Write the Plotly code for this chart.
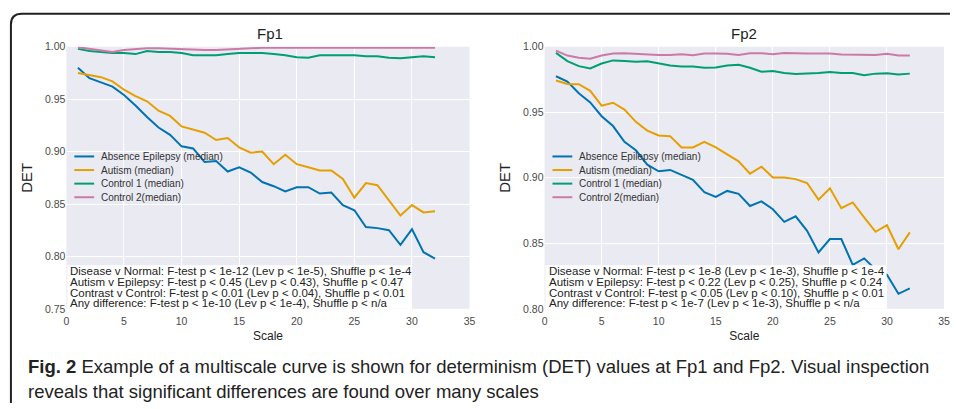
import plotly.graph_objects as go

# ---- data: median DET per scale ----
scales = list(range(1, 33))

fp1_absence = [0.980, 0.970, 0.966, 0.962, 0.954, 0.944, 0.933, 0.923, 0.916, 0.905,
               0.903, 0.890, 0.891, 0.881, 0.885, 0.880, 0.871, 0.867, 0.862, 0.866,
               0.866, 0.860, 0.861, 0.849, 0.844, 0.828, 0.827, 0.825, 0.811, 0.826,
               0.804, 0.798]
fp1_autism = [0.975, 0.973, 0.971, 0.967, 0.959, 0.953, 0.948, 0.939, 0.934, 0.924,
              0.921, 0.918, 0.911, 0.913, 0.904, 0.899, 0.900, 0.888, 0.897, 0.888,
              0.885, 0.882, 0.882, 0.874, 0.856, 0.870, 0.868, 0.854, 0.839, 0.849,
              0.842, 0.843]
fp1_control1 = [0.998, 0.996, 0.995, 0.994, 0.994, 0.993, 0.996, 0.995, 0.995, 0.994,
                0.992, 0.992, 0.992, 0.993, 0.994, 0.994, 0.994, 0.993, 0.992, 0.990,
                0.9895, 0.992, 0.992, 0.992, 0.992, 0.991, 0.991, 0.9895, 0.989, 0.990,
                0.991, 0.990]
fp1_control2 = [0.9995, 0.998, 0.996, 0.995, 0.997, 0.998, 0.9985, 0.9985, 0.998, 0.998,
                0.9975, 0.997, 0.997, 0.9975, 0.998, 0.999, 0.999, 0.999, 0.999, 0.999,
                0.999, 0.999, 0.999, 0.999, 0.999, 0.9985, 0.9985, 0.9985, 0.999, 0.999,
                0.999, 0.999]

fp2_absence = [0.9775, 0.9735, 0.9645, 0.9575, 0.947, 0.9395, 0.9275, 0.921, 0.910, 0.905,
               0.906, 0.902, 0.8985, 0.889, 0.8855, 0.890, 0.8878, 0.8785, 0.882, 0.876,
               0.8664, 0.8706, 0.8595, 0.843, 0.8533, 0.8533, 0.8336, 0.8385, 0.830, 0.826,
               0.8115, 0.8157]
fp2_autism = [0.9743, 0.9716, 0.9714, 0.9664, 0.9551, 0.9573, 0.9521, 0.9427, 0.936, 0.9323,
              0.9318, 0.9232, 0.9232, 0.9274, 0.9232, 0.918, 0.9126, 0.9032, 0.9085, 0.9002,
              0.9002, 0.899, 0.896, 0.8833, 0.892, 0.8768, 0.8812, 0.8698, 0.8588, 0.8638,
              0.8455, 0.8584]
fp2_control1 = [0.9953, 0.9891, 0.9852, 0.9835, 0.9872, 0.9896, 0.9891, 0.9886, 0.9889, 0.9872,
                0.9857, 0.985, 0.985, 0.984, 0.9842, 0.9857, 0.9862, 0.984, 0.981, 0.9815,
                0.980, 0.9793, 0.9795, 0.980, 0.9807, 0.980, 0.980, 0.9783, 0.9795, 0.9798,
                0.9788, 0.9795]
fp2_control2 = [0.997, 0.9933, 0.9916, 0.9909, 0.9933, 0.9948, 0.995, 0.9946, 0.994, 0.9938,
                0.9938, 0.9943, 0.9936, 0.9948, 0.9948, 0.9946, 0.9938, 0.995, 0.995, 0.9943,
                0.9953, 0.9948, 0.9948, 0.9948, 0.9948, 0.9941, 0.9941, 0.9943, 0.9938, 0.9946,
                0.9933, 0.9933]

series_names = ["Absence Epilepsy (median)", "Autism (median)",
                "Control 1 (median)", "Control 2(median)"]
series_colors = ["#0173B2", "#E69F00", "#009E73", "#CC79A7"]

panel_titles = ["Fp1", "Fp2"]
x_ticks = [0, 5, 10, 15, 20, 25, 30, 35]
fp1_y_ticks = [0.75, 0.80, 0.85, 0.90, 0.95, 1.00]
fp2_y_ticks = [0.80, 0.85, 0.90, 0.95, 1.00]

fp1_stats = [
    "Disease v Normal: F-test p < 1e-12 (Lev p < 1e-5), Shuffle p < 1e-4",
    "Autism v Epilepsy: F-test p < 0.45 (Lev p < 0.43), Shuffle p < 0.47",
    "Contrast v Control: F-test p < 0.01 (Lev p < 0.04), Shuffle p < 0.01",
    "Any difference: F-test p < 1e-10 (Lev p < 1e-4), Shuffle p < n/a",
]
fp2_stats = [
    "Disease v Normal: F-test p < 1e-8 (Lev p < 1e-3), Shuffle p < 1e-4",
    "Autism v Epilepsy: F-test p < 0.22 (Lev p < 0.25), Shuffle p < 0.24",
    "Contrast v Control: F-test p < 0.05 (Lev p < 0.10), Shuffle p < 0.01",
    "Any difference: F-test p < 1e-7 (Lev p < 1e-3), Shuffle p < n/a",
]

caption_bold = "Fig. 2"
caption_line1 = (" Example of a multiscale curve is shown for determinism (DET) values "
                 "at Fp1 and Fp2. Visual inspection")
caption_line2 = "reveals that significant differences are found over many scales"

# ---- page geometry (pixels) ----
W, H = 956, 409


def px(x):
    return x / W


def py(y):
    return 1 - y / H


panels = [
    dict(x0=64, x1=471, yticks=fp1_y_ticks,
         series=[fp1_absence, fp1_autism, fp1_control1, fp1_control2], stats=fp1_stats,
         box_x1=412),
    dict(x0=546.7, x1=950, yticks=fp2_y_ticks,
         series=[fp2_absence, fp2_autism, fp2_control1, fp2_control2], stats=fp2_stats,
         box_x1=892),
]
plot_top, plot_bottom = 42, 312

TEXT_FONT = "Liberation Sans, Arial, sans-serif"
TICK_FONT = dict(family=TEXT_FONT, size=10.5, color="#4a4a4a")

fig = go.Figure()
layout = dict(
    width=W, height=H,
    margin=dict(l=0, r=0, t=0, b=0),
    paper_bgcolor="white",
    plot_bgcolor="#EAEAF2",
    showlegend=False,
)
shapes = []
annotations = []

for i, p in enumerate(panels):
    sfx = "" if i == 0 else str(i + 1)
    xa, ya = "x" + sfx, "y" + sfx
    for vals, name, col in zip(p["series"], series_names, series_colors):
        fig.add_trace(go.Scatter(x=scales, y=vals, mode="lines", name=name,
                                 line=dict(color=col, width=2), xaxis=xa, yaxis=ya))
    layout["xaxis" + sfx] = dict(
        domain=[px(p["x0"]), px(p["x1"])], range=[0, 35], anchor=ya,
        tickvals=x_ticks, ticks="", showline=False, zeroline=False,
        gridcolor="white", gridwidth=1.2, tickfont=TICK_FONT, ticklabelstandoff=5,
        title=dict(text="Scale", font=dict(family=TEXT_FONT, size=12, color="#222"),
                   standoff=5),
    )
    layout["yaxis" + sfx] = dict(
        domain=[py(plot_bottom), py(plot_top)],
        range=[p["yticks"][0], 1.0], anchor=xa,
        tickvals=p["yticks"], tickformat=".2f", ticks="", showline=False,
        zeroline=False, gridcolor="white", gridwidth=1.2, tickfont=TICK_FONT,
        title=dict(text="DET", font=dict(family=TEXT_FONT, size=15, color="#222"),
                   standoff=8),
    )
    # panel title
    annotations.append(dict(
        text=panel_titles[i], xref="paper", yref="paper",
        x=px((p["x0"] + p["x1"]) / 2 + (2 if i == 0 else 0)), y=py(28),
        xanchor="center", yanchor="middle", showarrow=False,
        font=dict(family=TEXT_FONT, size=15, color="#222"),
    ))
    # legend drawn as swatches + labels
    for k, (name, col) in enumerate(zip(series_names, series_colors)):
        yy = 155 + k * 14
        shapes.append(dict(type="line", xref="paper", yref="paper",
                           x0=px(p["x0"] + 8), x1=px(p["x0"] + 28), y0=py(yy), y1=py(yy),
                           line=dict(color=col, width=2)))
        annotations.append(dict(
            text=name, xref="paper", yref="paper", x=px(p["x0"] + 34), y=py(yy),
            xanchor="left", yanchor="middle", showarrow=False, borderpad=0,
            font=dict(family=TEXT_FONT, size=10, color="#333"),
        ))
    # statistics box: one text block, tight line spacing (8.3px * 1.3 line height),
    # glyphs rendered at 11.5px through the inner span
    shapes.append(dict(type="rect", xref="paper", yref="paper", layer="above",
                       x0=px(p["x0"] + 1), x1=px(p["box_x1"]), y0=py(plot_bottom),
                       y1=py(267), fillcolor="white", line=dict(width=0)))
    block = "<br>".join('<span style="font-size:11.5px">' + s + "</span>"
                        for s in p["stats"])
    annotations.append(dict(
        text=block, xref="paper", yref="paper", x=px(p["x0"] + 3),
        y=py(289.5), xanchor="left", yanchor="middle", showarrow=False,
        align="left", borderpad=0,
        font=dict(family=TEXT_FONT, size=8.3, color="#222"),
    ))

# caption
CAP_FONT = "Liberation Sans, Arial, sans-serif"
annotations.append(dict(
    text="<b>" + caption_bold + "</b>" + caption_line1, xref="paper", yref="paper",
    x=px(23), y=py(371), xanchor="left", yanchor="middle", showarrow=False,
    font=dict(family=CAP_FONT, size=18.5, color="#222"),
))
annotations.append(dict(
    text=caption_line2, xref="paper", yref="paper",
    x=px(23), y=py(397), xanchor="left", yanchor="middle", showarrow=False,
    font=dict(family=CAP_FONT, size=18.5, color="#222"),
))

# rounded frame around the figure
frame = (f"M {px(8)},{py(H)} L {px(8)},{py(19)} "
         f"Q {px(8)},{py(8)} {px(19)},{py(8)} L {px(W)},{py(8)}")
shapes.append(dict(type="path", xref="paper", yref="paper", path=frame,
                   line=dict(color="#222", width=2)))

layout["shapes"] = shapes
layout["annotations"] = annotations
fig.update_layout(**layout)

fig.write_html("out.html")
